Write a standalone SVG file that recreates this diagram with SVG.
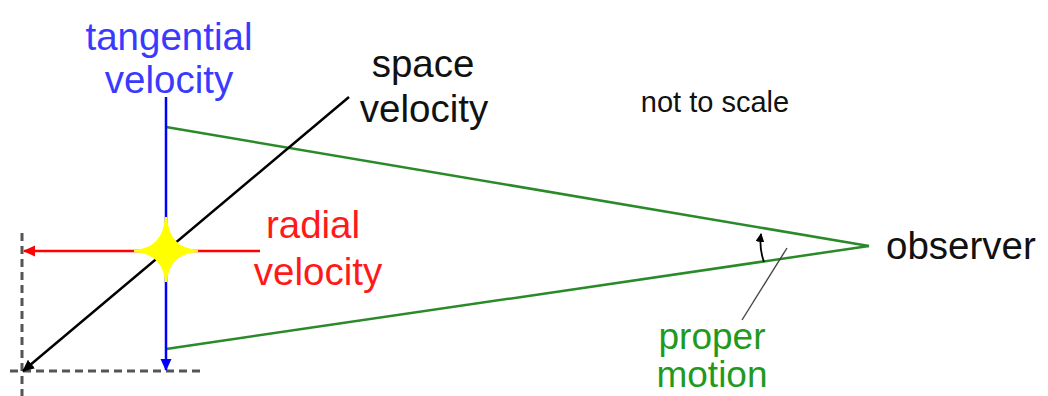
<svg xmlns="http://www.w3.org/2000/svg" width="1048" height="396" viewBox="0 0 1048 396">
<style>
text{font-family:"Liberation Sans",Arial,sans-serif;}
.big{font-size:38.5px;}
.blue{fill:#3a3aff;}
.red{fill:#ff1a1a;}
.green{fill:#1f9a1f;font-size:37px;}
.black{fill:#111;}
.dash{stroke:#555;stroke-width:3;stroke-dasharray:8 5;fill:none;}
</style>
<defs>
<marker id="ab" markerWidth="12" markerHeight="12" refX="11" refY="6" orient="auto" markerUnits="userSpaceOnUse" viewBox="0 0 12 12"><path d="M0,0.5 L12,6 L0,11.5 z" fill="#0000ff"/></marker>
<marker id="ar" markerWidth="12" markerHeight="12" refX="11" refY="6" orient="auto" markerUnits="userSpaceOnUse" viewBox="0 0 12 12"><path d="M0,0.5 L12,6 L0,11.5 z" fill="#ff0000"/></marker>
<marker id="ak" markerWidth="12" markerHeight="12" refX="11" refY="6" orient="auto" markerUnits="userSpaceOnUse" viewBox="0 0 12 12"><path d="M0,0.5 L12,6 L0,11.5 z" fill="#000"/></marker>
<marker id="ak2" markerWidth="9" markerHeight="9" refX="8" refY="4.5" orient="auto" markerUnits="userSpaceOnUse" viewBox="0 0 9 9"><path d="M0,0 L9,4.5 L0,9 z" fill="#000"/></marker>
</defs>
<g id="guides">
<line class="dash" x1="22" y1="233" x2="22" y2="396"/>
<line class="dash" x1="10" y1="371" x2="204" y2="371"/>
</g>
<g id="connectors">
<line x1="166" y1="127" x2="869" y2="246" stroke="#2a8a2a" stroke-width="2.5"/>
<line x1="166" y1="349" x2="869" y2="246" stroke="#2a8a2a" stroke-width="2.5"/>
<line x1="260" y1="251" x2="24" y2="251" stroke="#ff0000" stroke-width="2.5" marker-end="url(#ar)"/>
<line x1="166" y1="97" x2="166" y2="370" stroke="#0000ff" stroke-width="2.5" marker-end="url(#ab)"/>
<line x1="349" y1="97" x2="23" y2="371" stroke="#000" stroke-width="2.5" marker-end="url(#ak)"/>
<path d="M764,262 Q759,248 761,234" fill="none" stroke="#000" stroke-width="1.8" marker-end="url(#ak2)"/>
<line x1="787" y1="248" x2="742" y2="320" stroke="#444" stroke-width="1.4"/>
</g>
<g id="star">
<path d="M166,217 Q168,249 198,251 Q168,253 166,282 Q164,253 134,251 Q164,249 166,217 z" fill="#ffff00" stroke="#ffff00" stroke-width="2" stroke-linejoin="miter"/>
</g>
<g id="tangential-label">
<text class="big blue" x="169" y="50" text-anchor="middle">tangential</text>
<text class="big blue" x="169" y="93" text-anchor="middle">velocity</text>
</g>
<g id="space-label">
<text class="big black" x="423" y="77" text-anchor="middle">space</text>
<text class="big black" x="424" y="122" text-anchor="middle">velocity</text>
</g>
<g id="radial-label">
<text class="big red" x="313" y="238" text-anchor="middle">radial</text>
<text class="big red" x="318" y="285" text-anchor="middle">velocity</text>
</g>
<g id="observer-label">
<text class="big black" x="886" y="259">observer</text>
</g>
<g id="note">
<text class="black" x="715" y="112" font-size="29" text-anchor="middle">not to scale</text>
</g>
<g id="proper-motion-label">
<text class="green" x="712" y="349" text-anchor="middle">proper</text>
<text class="green" x="712" y="387" text-anchor="middle">motion</text>
</g>
</svg>
